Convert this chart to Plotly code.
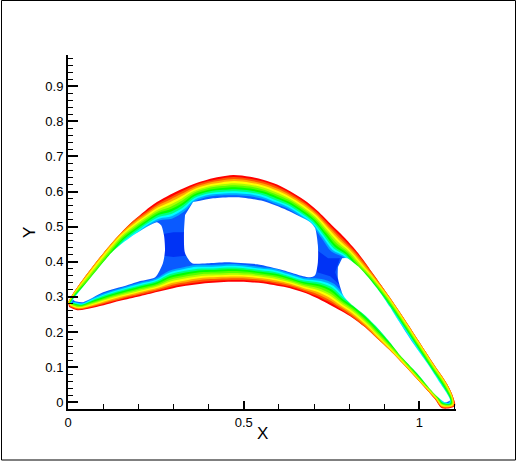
import numpy as np
import plotly.graph_objects as go

# Blade surface, read clockwise from the leading edge
OUTER_X = [0, .014, .054, .100, .148, .185, .219, .253, .290, .319, .356, .396, .433, .470, .518, .555, .595, .632, .672, .709,
           .751, .783, .811, .840, .868, .916, .959, 1.002, 1.039, 1.079, 1.096, 1.101, 1.064,
           1.044, 1.010, .965, .916, .879, .845, .803, .768, .737, .703, .669, .632, .595, .555, .518, .481, .433, .390,
           .347, .299, .262, .205, .148, .111, .071, .026, .003]
OUTER_Y = [.285, .309, .365, .424, .479, .516, .545, .570, .591, .605, .621, .634, .642, .647, .642, .634, .620, .601, .576, .546,
           .504, .473, .442, .406, .366, .298, .234, .168, .111, .051, .014, -.011, -.017,
           .009, .048, .097, .148, .182, .214, .245, .265, .282, .299, .313, .325, .332, .339, .342, .343, .342, .339,
           .333, .325, .316, .302, .289, .279, .269, .262, .271]
# Innermost contour matched to each surface station
INNER_X = [.011, .023, .077, .134, .168, .208, .233, .262, .296, .333, .361, .404, .447, .481, .518, .555, .592, .623, .660, .692,
           .720, .746, .780, .808, .845, .896, .942, .985, 1.022, 1.062, 1.084, 1.081, 1.067,
           1.056, 1.022, .979, .933, .899, .868, .825, .788, .760, .723, .672, .626, .589, .546, .504, .461, .404, .361,
           .327, .285, .248, .205, .154, .108, .068, .043, .020]
INNER_Y = [.282, .299, .345, .413, .453, .481, .499, .513, .516, .538, .567, .581, .584, .584, .581, .573, .558, .547, .524, .501,
           .462, .425, .410, .376, .348, .288, .222, .157, .100, .040, .003, 0, .006,
           .023, .060, .111, .168, .208, .242, .285, .311, .342, .356, .359, .373, .385, .390, .396, .399, .396, .396,
           .390, .379, .356, .345, .330, .316, .299, .285, .288]
# Share of the colour range already passed at the surface (thin walls never reach the hottest bands)
SKIN_START = [.2, .2, .2, .2, .2, .1, 0, 0, 0, 0, 0, 0, 0, 0, 0, 0, 0, 0, 0, 0,
              0, 0, 0, .05, .1, .2, .2, .2, .2, .2, .15, 0, 0,
              .1, .2, .2, .2, .15, .1, .05, 0, 0, 0, 0, 0, 0, 0, 0, 0, 0, 0,
              0, 0, 0, 0, 0, 0, 0, 0, 0]
# Cooling passages
HOLE1_X = [.014, .063, .128, .191, .253, .265, .273, .276, .270, .248, .205, .168, .100, .043, .020]
HOLE1_Y = [.293, .353, .430, .479, .513, .504, .476, .433, .396, .356, .345, .333, .313, .285, .288]
HOLE2_X = [.356, .413, .481, .555, .623, .689, .703, .711, .711, .703, .689, .669, .612, .538, .452, .396, .353, .333, .330, .333]
HOLE2_Y = [.570, .581, .584, .573, .547, .513, .496, .447, .399, .362, .356, .359, .376, .393, .399, .396, .396, .425, .484, .533]
HOLE3_X = [.780, .794, .831, .879, .916, .939, .982, 1.022, 1.059, 1.081, 1.087, 1.073, 1.039, .993, .945, .916, .874, .845, .803, .783, .768, .768]
HOLE3_Y = [.410, .410, .382, .325, .271, .234, .168, .111, .054, .020, .006, 0, .028, .083, .134, .171, .219, .248, .282, .305, .353, .385]
# Lowest contour level inside the two ribs
RIB1_X = [.262, .300, .347, .347, .300, .262]
RIB1_Y = [.478, .484, .484, .419, .414, .419]
RIB2_X = [.709, .740, .774, .760, .774, .746, .709]
RIB2_Y = [.433, .410, .410, .370, .333, .359, .370]

BAND_COLORS = ["#ff0000", "#ff5500", "#ffaa00", "#ffff00", "#aaff00", "#55ff00", "#00ff00",
               "#00ff80", "#00ffff", "#00aaff", "#0a5aff"]
CORE_COLOR = "#0033f5"
Y_TICKS = [0, .1, .2, .3, .4, .5, .6, .7, .8, .9]
Y_LABELS = ["0", "0.1", "0.2", "0.3", "0.4", "0.5", "0.6", "0.7", "0.8", "0.9"]
X_TICKS = [0, .5, 1]
X_LABELS = ["0", "0.5", "1"]

ox, oy, ix, iy, s0 = map(np.array, (OUTER_X, OUTER_Y, INNER_X, INNER_Y, SKIN_START))
fig = go.Figure()
for k, color in enumerate(BAND_COLORS):
    f = np.clip((k / len(BAND_COLORS) - s0) / (1 - s0), 0, 1)
    fig.add_trace(go.Scatter(x=ox + f * (ix - ox), y=oy + f * (iy - oy), mode="lines", fill="toself",
                             fillcolor=color, line=dict(width=0, color=color, shape="spline", smoothing=0.9),
                             hoverinfo="skip"))
for cx, cy in ((RIB1_X, RIB1_Y), (RIB2_X, RIB2_Y)):
    fig.add_trace(go.Scatter(x=cx, y=cy, mode="lines", fill="toself", fillcolor=CORE_COLOR,
                             line=dict(width=0, color=CORE_COLOR), hoverinfo="skip"))
for hx, hy in ((HOLE1_X, HOLE1_Y), (HOLE2_X, HOLE2_Y), (HOLE3_X, HOLE3_Y)):
    fig.add_trace(go.Scatter(x=hx, y=hy, mode="lines", fill="toself", fillcolor="white",
                             line=dict(width=0, color="white", shape="spline", smoothing=0.7), hoverinfo="skip"))

L, R, T, B = 68, 61, 55, 52
PW, PH = 517 - L - R, 461 - T - B


def px(x):
    return (x - L) / PW


def py(y):
    return (461 - B - y) / PH


fig.update_layout(
    width=517, height=461, autosize=False, showlegend=False,
    margin=dict(l=L, r=R, t=T, b=B, pad=0),
    paper_bgcolor="white", plot_bgcolor="white",
    font=dict(family="Liberation Sans", size=13, color="black"),
    shapes=[dict(type="rect", xref="paper", yref="paper",
                 x0=px(1.5), x1=px(515.5), y0=py(460), y1=py(0.5),
                 line=dict(color="black", width=1), fillcolor="rgba(0,0,0,0)")],
    annotations=[
        dict(text="X", xref="paper", yref="paper", x=px(262), y=py(433), xanchor="center", yanchor="middle",
             showarrow=False, font=dict(size=17, color="black")),
        dict(text="Y", xref="paper", yref="paper", x=px(30), y=py(233), xanchor="center", yanchor="middle",
             showarrow=False, textangle=-90, font=dict(size=17, color="black")),
    ],
    xaxis=dict(range=[0, 1.104], tickmode="array", tickvals=X_TICKS, ticktext=X_LABELS, ticks="inside",
               ticklen=8, tickwidth=2, tickcolor="black", showgrid=False, zeroline=False,
               showline=True, linecolor="black", linewidth=2,
               minor=dict(dtick=.1, tick0=0, ticks="inside", ticklen=5, tickwidth=1, tickcolor="black", showgrid=False),
               layer="above traces"),
    yaxis=dict(range=[-.0192, .989], tickmode="array", tickvals=Y_TICKS, ticktext=Y_LABELS, ticks="inside",
               ticklen=10, tickwidth=2, tickcolor="black", showgrid=False, zeroline=False,
               showline=True, linecolor="black", linewidth=2,
               minor=dict(dtick=.02, tick0=0, ticks="inside", ticklen=5, tickwidth=1, tickcolor="black", showgrid=False),
               layer="above traces"),
)
fig.write_html("out.html", config={"displayModeBar": False}, post_script="document.body.style.margin='0';")
